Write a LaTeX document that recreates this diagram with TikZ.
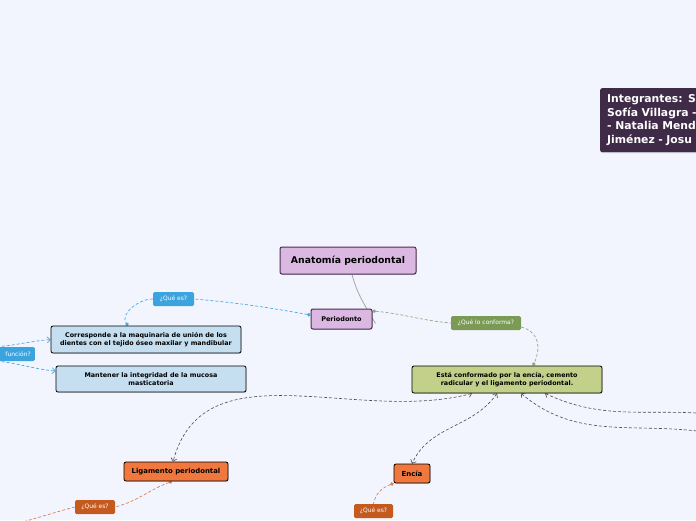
\documentclass[tikz,border=0pt]{standalone}
\usepackage{fontspec}
\setmainfont{DejaVu Sans}
\usetikzlibrary{arrows.meta,backgrounds,shadows}
\definecolor{bgcol}{HTML}{F3F5FE}
\definecolor{purplefill}{HTML}{DAB8E1}
\definecolor{purpleline}{HTML}{4B2E54}
\definecolor{integcol}{HTML}{3F2B48}
\definecolor{bluefill}{HTML}{C5DEF0}
\definecolor{bluetag}{HTML}{3BA3DE}
\definecolor{blueline}{HTML}{49A9E0}
\definecolor{greenfill}{HTML}{C2D08A}
\definecolor{greentag}{HTML}{7A9A55}
\definecolor{greenline}{HTML}{93A886}
\definecolor{orangefill}{HTML}{F0783E}
\definecolor{orangetag}{HTML}{C55A1F}
\definecolor{orangeline}{HTML}{D2825A}
\definecolor{relgray}{HTML}{4A4A55}
\begin{document}
\begin{tikzpicture}[x=1pt,y=1pt,
  box/.style={draw=black,line width=0.8pt,rounded corners=2pt,align=center,inner sep=0pt,
    font=\bfseries\fontsize{6.4}{7.8}\selectfont,
    drop shadow={shadow xshift=0.6pt,shadow yshift=-0.8pt,opacity=0.3}},
  topic/.style={box,draw=purpleline,fill=purplefill,line width=1pt},
  leaf/.style={box,fill=orangefill,font=\bfseries\fontsize{6.9}{8}\selectfont},
  tag/.style={rounded corners=1.5pt,text=white,inner sep=0pt,minimum height=14,
    font=\fontsize{6}{7}\selectfont},
  link/.style={line width=0.7pt,dash pattern=on 3pt off 2pt},
  rel/.style={link,draw=relgray,line width=0.6pt}]
\useasboundingbox (0,0) rectangle (696,-520);

\node[anchor=north west,fill=integcol,rounded corners=2pt,text=white,align=left,
  inner xsep=7pt,text width=136,minimum height=64,
  font=\bfseries\fontsize{10.8}{13.5}\selectfont,
  drop shadow={shadow xshift=0.6pt,shadow yshift=-0.8pt,opacity=0.3}]
  (Integ) at (600,-88) {Integrantes: S\\Sofía Villagra -\\- Natalia Mend\\Jiménez - Josu};

\node[topic,minimum width=136,minimum height=27,font=\bfseries\fontsize{9.3}{11}\selectfont]
  (Anat) at (348,-260.5) {Anatomía periodontal};
\node[topic,minimum width=61,minimum height=20,font=\bfseries\fontsize{6.5}{8}\selectfont]
  (Perio) at (341.5,-319) {Periodonto};

\node[tag,fill=bluetag,minimum width=41] (QueEs) at (173.5,-299) {¿Qué es?};
\node[box,fill=bluefill,minimum width=190,minimum height=27] (Corresp) at (146,-339.5)
  {Corresponde a la maquinaria de unión de los\\dientes con el tejido óseo maxilar y mandibular};
\node[tag,fill=bluetag,anchor=east,text width=68,align=right,inner xsep=4pt] (Funcion) at (35,-354) {función?};
\node[box,fill=bluefill,minimum width=190,minimum height=26] (Mant) at (151,-379)
  {Mantener la integridad de la mucosa\\masticatoria};

\node[tag,fill=greentag,minimum width=70] (QueConf) at (486,-323) {¿Qué lo conforma?};
\node[box,fill=greenfill,minimum width=190,minimum height=27] (Esta) at (507,-379.5)
  {Está conformado por la encía, cemento\\radicular y el ligamento periodontal.};

\node[leaf,minimum width=104,minimum height=19] (Lig) at (176,-471.5) {Ligamento periodontal};
\node[leaf,minimum width=36,minimum height=19] (Encia) at (412,-473.5) {Encía};
\node[tag,fill=orangetag,minimum width=40] (QueEsLig) at (95,-507) {¿Qué es?};
\node[tag,fill=orangetag,minimum width=39] (QueEsEnc) at (373.5,-511) {¿Qué es?};

\coordinate (ROutA) at (705,-413.5);
\coordinate (ROutB) at (705,-432);
\coordinate (LOut) at (15,-524);

\begin{scope}[on background layer]
\fill[bgcol] (0,0) rectangle (696,-520);
\draw[gray!70,line width=0.8pt] ([xshift=4]Anat.south) to[out=-75,in=120] ([xshift=3,yshift=6]Perio.south east);

\draw[link,blueline,{Circle[length=3.5pt]}-] ([yshift=4]Perio.west) to[out=170,in=-5] (QueEs.east);
\draw[link,blueline,-{Circle[length=3.5pt]}] (QueEs.west) to[out=180,in=125] ([xshift=-18]Corresp.north);
\draw[link,blueline,-{Straight Barb[length=3pt]}] (Funcion.north) to[out=5,in=185] (Corresp.west);
\draw[link,blueline,-{Straight Barb[length=3pt]}] (Funcion.south) to[out=-5,in=175] ([yshift=8]Mant.west);

\draw[link,greenline,{Circle[length=3.5pt]}-] ([yshift=8]Perio.east) to[out=-5,in=175] (QueConf.west);
\draw[link,greenline,-{Circle[length=3.5pt]}] ([yshift=-4]QueConf.east) to[out=-15,in=65,looseness=1.2] ([xshift=26]Esta.north);

\draw[rel,{Straight Barb[length=3pt]}-{Straight Barb[length=3pt]}] ([xshift=-35]Esta.south) to[out=195,in=75] ([xshift=-3]Lig.north);
\draw[rel,{Straight Barb[length=3pt]}-{Straight Barb[length=3pt]}] ([xshift=-10]Esta.south) to[out=235,in=65] (Encia.north);
\draw[rel,{Straight Barb[length=3pt]}-] ([xshift=14]Esta.south) to[out=-40,in=172] (ROutB);
\draw[rel,{Straight Barb[length=3pt]}-] ([xshift=38]Esta.south) to[out=-25,in=176] (ROutA);

\draw[link,orangeline,{Circle[length=3.5pt]}-] ([xshift=-4]Lig.south) to[out=-160,in=15] (QueEsLig.east);
\draw[link,orangeline] (QueEsLig.west) to[out=195,in=15] (LOut);
\draw[link,orangeline,{Circle[length=3.5pt]}-] (Encia.south west) to[out=200,in=80] (QueEsEnc.north);
\end{scope}
\end{tikzpicture}
\end{document}
